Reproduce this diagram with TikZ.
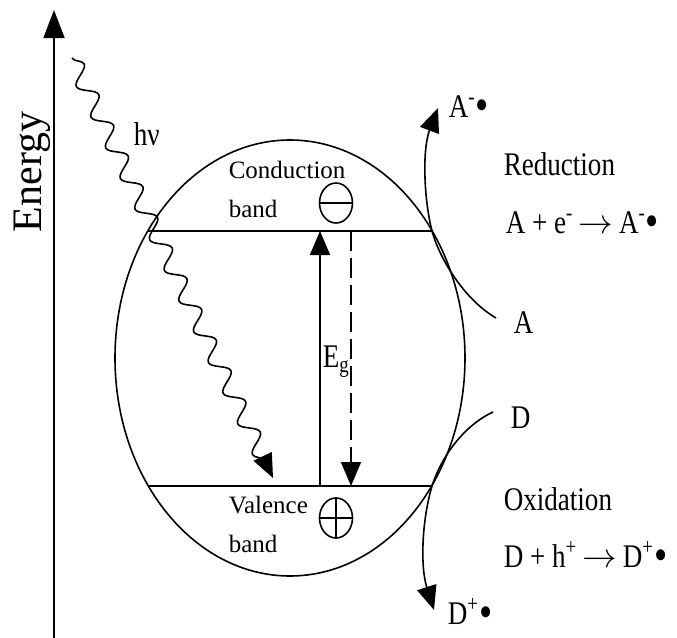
\documentclass[tikz,border=0pt]{standalone}
\usepackage{fontspec}
\setmainfont{Liberation Serif}
\newfontfamily\narrowserif{Liberation Serif}[FakeStretch=0.82]
\usepackage{tikz}
\usetikzlibrary{arrows.meta, shapes.geometric, decorations.pathmorphing}

\newcommand{\rad}{\raisebox{-0.12em}{\fontsize{23}{23}\selectfont •}}
\newcommand{\yields}{\,$\rightarrow$\,}

\tikzset{
  lbl/.style={font=\narrowserif\fontsize{16.5}{19}\selectfont, inner sep=0pt, anchor=base west},
  bandlbl/.style={font=\fontsize{12.5}{15}\selectfont, inner sep=0pt, anchor=base west},
  charge/.style={draw, ellipse, minimum width=16.5pt, minimum height=20pt, inner sep=0pt},
  photon/.style={decorate, decoration={snake, segment length=17pt, amplitude=4.2pt, post length=9pt}},
}

\begin{document}
\begin{tikzpicture}[x=0.5pt, y=-0.5pt, line width=0.8pt, >={Triangle[width=10pt,length=12pt]}]
  \useasboundingbox (0,0) rectangle (677,638);

  % energy axis
  \coordinate (eBot) at (54,638);
  \coordinate (eTop) at (54,10);
  \draw[-{Triangle[width=10.5pt,length=14pt]}] (eBot) -- (eTop);
  \node[font=\fontsize{21}{25}\selectfont, rotate=90, inner sep=0pt] (energy) at (32,172) {Energy};

  % particle and bands
  \node[draw, ellipse, minimum width=175pt, minimum height=218pt, inner sep=0pt] (particle) at (290,358) {};
  \coordinate (cbL) at (148,231);
  \coordinate (cbR) at (432,231);
  \coordinate (vbL) at (148,486);
  \coordinate (vbR) at (432,486);
  \draw (cbL) -- (cbR);
  \draw (vbL) -- (vbR);

  \node[bandlbl] (cbTxt) at (228,178) {Conduction};
  \node[bandlbl] (cbTxt2) at (228,217) {band};
  \node[bandlbl] (vbTxt) at (228,513) {Valence};
  \node[bandlbl] (vbTxt2) at (228,552) {band};

  % electron and hole
  \node[charge] (elec) at (336,203) {};
  \draw (elec.west) -- (elec.east);
  \node[charge] (hole) at (336,518) {};
  \draw (hole.west) -- (hole.east);
  \draw (hole.north) -- (hole.south);

  % excitation and recombination
  \coordinate (exUp0) at (320,486);
  \coordinate (exUp1) at (320,231);
  \coordinate (exDn0) at (351,231);
  \coordinate (exDn1) at (351,486);
  \draw[->] (exUp0) -- (exUp1);
  \draw[->, dash pattern=on 10pt off 3.5pt] (exDn0) -- (exDn1);
  \node[lbl] (gap) at (322,367) {E\textsubscript{g}};

  % photon
  \coordinate (phStart) at (72,58);
  \coordinate (phEnd) at (273,478);
  \draw[->, photon] (phStart) -- (phEnd);
  \node[lbl] (hnu) at (133,145) {hν};

  % reduction
  \coordinate (aFoot) at (496,318);
  \coordinate (aTip) at (438,108);
  \draw[->] (aFoot) .. controls (465,300) and (440,260) .. (cbR)
    .. controls (424,200) and (422,150) .. (aTip);
  \node[lbl] (aLbl) at (513,333) {A};
  \node[lbl] (aRad) at (448,117) {A\textsuperscript{-}\rad};
  \node[lbl] (redTxt) at (503,175) {Reduction};
  \node[lbl] (redEq) at (505,233) {A + e\textsuperscript{-}\yields A\textsuperscript{-}\rad};

  % oxidation
  \coordinate (dFoot) at (493,412);
  \coordinate (dTip) at (434,610);
  \draw[->] (dFoot) .. controls (465,425) and (442,455) .. (vbR)
    .. controls (422,520) and (420,566) .. (dTip);
  \node[lbl] (dLbl) at (510,428) {D};
  \node[lbl] (dRad) at (447,624) {D\textsuperscript{+}\rad};
  \node[lbl] (oxTxt) at (503,510) {Oxidation};
  \node[lbl] (oxEq) at (503,567) {D + h\textsuperscript{+}\yields D\textsuperscript{+}\rad};
\end{tikzpicture}
\end{document}
